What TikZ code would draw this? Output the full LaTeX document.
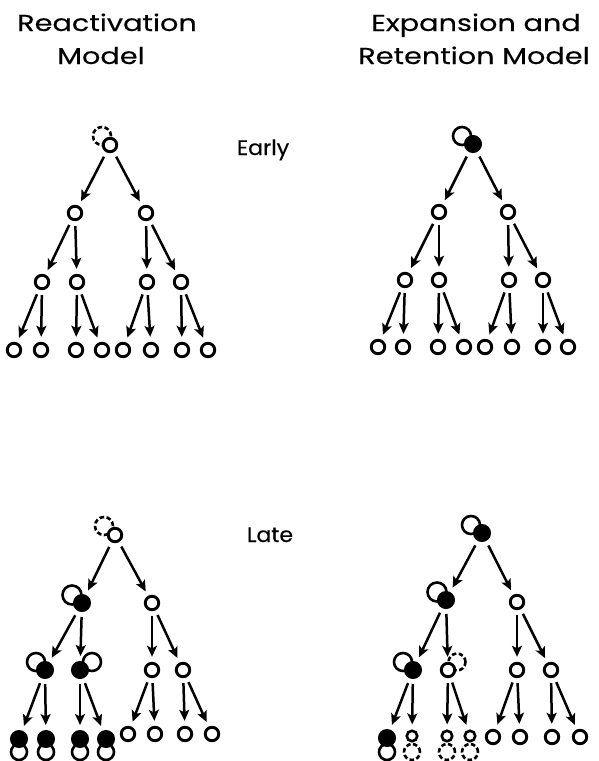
\documentclass[tikz,border=0pt]{standalone}
\usepackage{fontspec}
\newfontfamily\hfont{Poppins}[FakeStretch=1.25,FakeBold=0.3]
\newfontfamily\sfont{Poppins}[FakeStretch=1.05,FakeBold=0.3]
\usetikzlibrary{arrows.meta}
\tikzset{
  opn/.style={circle,draw,line width=2.9pt,fill=white,minimum size=13.5pt,inner sep=0pt},
  sopn/.style={circle,draw,line width=2.6pt,fill=white,minimum size=10.5pt,inner sep=0pt},
  fil/.style={circle,draw,fill=black,line width=1pt,minimum size=17pt,inner sep=0pt},
  ring/.style={draw,line width=2.6pt},
  dring/.style={draw,line width=2.6pt,dash pattern=on 4.5pt off 2.5pt},
  arr/.style={-{Stealth[length=11pt,width=10pt,inset=2.5pt]},line width=2.5pt,shorten >=5pt,shorten <=5pt},
  lbl/.style={font=\hfont\fontsize{23}{27}\selectfont,anchor=base,inner sep=0pt},
  slbl/.style={font=\sfont\fontsize{21}{25}\selectfont,anchor=base,inner sep=0pt}
}
\begin{document}
\begin{tikzpicture}[x=1pt,y=-1pt]
\useasboundingbox (0,0) rectangle (598,761);
% headings
\node[lbl] (h1a) at (107,31) {Reactivation};
\node[lbl] (h1b) at (101,64) {Model};
\node[lbl] (h2a) at (476,31) {Expansion and};
\node[lbl] (h2b) at (474,64) {Retention Model};
\node[slbl] (early) at (263,155) {Early};
\node[slbl] (late) at (270,542) {Late};

% ---------- rings (behind nodes)
\draw[dring] (102,136) circle[radius=9pt];
\draw[ring] (462,136) circle[radius=9pt];
\draw[dring] (104,526) circle[radius=9pt];
\draw[ring] (72,595) circle[radius=9.5pt];
\draw[ring] (36,662) circle[radius=9pt];
\draw[ring] (92,662) circle[radius=9pt];
\foreach \x in {19,46,80,106} \draw[ring] (\x,752) circle[radius=8pt];
\draw[ring] (471,525) circle[radius=9pt];
\draw[ring] (437,592) circle[radius=9.5pt];
\draw[ring] (403,662) circle[radius=9pt];
\draw[dring] (457,662) circle[radius=8.5pt];
\draw[ring] (387,752) circle[radius=8pt];
\foreach \x in {412,447,470} \draw[dring] (\x,752) circle[radius=8pt];

% ---------- tree top-left
\node[opn] (p0) at (110,145) {};
\node[opn] (p1) at (75,213) {};
\node[opn] (p2) at (146,213) {};
\node[opn] (p11) at (42,282) {};
\node[opn] (p12) at (77,282) {};
\node[opn] (p21) at (147,282) {};
\node[opn] (p22) at (181,282) {};
\node[opn] (p111) at (14,350) {};
\node[opn] (p112) at (41,350) {};
\node[opn] (p121) at (76,350) {};
\node[opn] (p122) at (102,350) {};
\node[opn] (p211) at (123,350) {};
\node[opn] (p212) at (151,350) {};
\node[opn] (p221) at (182,350) {};
\node[opn] (p222) at (208,350) {};

% ---------- tree top-right
\node[fil] (q0) at (473,144) {};
\node[opn] (q1) at (439,212) {};
\node[opn] (q2) at (508,212) {};
\node[opn] (q11) at (405,280) {};
\node[opn] (q12) at (439,280) {};
\node[opn] (q21) at (509,280) {};
\node[opn] (q22) at (543,280) {};
\node[opn] (q111) at (378,347) {};
\node[opn] (q112) at (403,347) {};
\node[opn] (q121) at (438,347) {};
\node[opn] (q122) at (464,347) {};
\node[opn] (q211) at (485,347) {};
\node[opn] (q212) at (512,347) {};
\node[opn] (q221) at (543,347) {};
\node[opn] (q222) at (568,347) {};

% ---------- tree bottom-left
\node[opn] (r0) at (115,535) {};
\node[fil] (r1) at (82,603) {};
\node[opn] (r2) at (152,603) {};
\node[fil] (r11) at (45,670) {};
\node[fil] (r12) at (80,670) {};
\node[opn] (r21) at (152,670) {};
\node[opn] (r22) at (183,670) {};
\node[fil] (r111) at (19,739) {};
\node[fil] (r112) at (46,739) {};
\node[fil] (r121) at (80,739) {};
\node[fil] (r122) at (106,739) {};
\node[opn] (r211) at (128,734) {};
\node[opn] (r212) at (155,734) {};
\node[opn] (r221) at (185,734) {};
\node[opn] (r222) at (212,734) {};

% ---------- tree bottom-right
\node[fil] (s0) at (482,533) {};
\node[fil] (s1) at (446,600) {};
\node[opn] (s2) at (517,602) {};
\node[fil] (s11) at (413,670) {};
\node[opn] (s12) at (448,670) {};
\node[opn] (s21) at (517,670) {};
\node[opn] (s22) at (551,670) {};
\node[fil] (s111) at (387,738) {};
\node[sopn] (s112) at (412,736) {};
\node[sopn] (s121) at (447,736) {};
\node[sopn] (s122) at (470,736) {};
\node[opn] (s211) at (493,737) {};
\node[opn] (s212) at (520,737) {};
\node[opn] (s221) at (552,737) {};
\node[opn] (s222) at (580,737) {};

% ---------- arrows
\foreach \t in {p,q,r,s}{
  \draw[arr] (\t0) -- (\t1);
  \draw[arr] (\t0) -- (\t2);
  \draw[arr] (\t1) -- (\t11);
  \draw[arr] (\t1) -- (\t12);
  \draw[arr] (\t2) -- (\t21);
  \draw[arr] (\t2) -- (\t22);
  \draw[arr] (\t11) -- (\t111);
  \draw[arr] (\t11) -- (\t112);
  \draw[arr] (\t12) -- (\t121);
  \draw[arr] (\t12) -- (\t122);
  \draw[arr] (\t21) -- (\t211);
  \draw[arr] (\t21) -- (\t212);
  \draw[arr] (\t22) -- (\t221);
  \draw[arr] (\t22) -- (\t222);
}
\end{tikzpicture}
\end{document}
